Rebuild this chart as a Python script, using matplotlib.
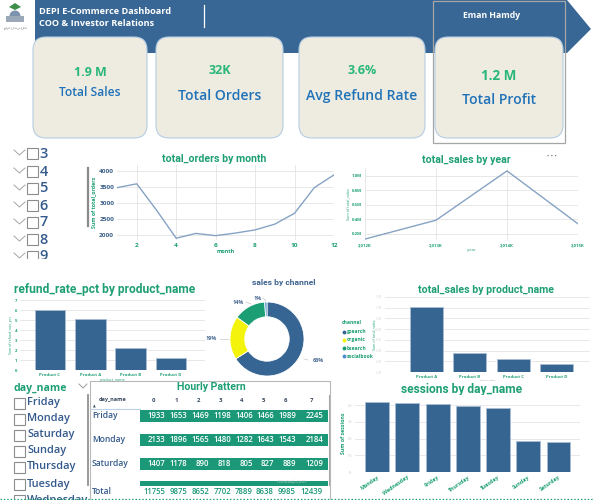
import matplotlib
matplotlib.use("Agg")
import matplotlib.pyplot as plt
from matplotlib.patches import FancyBboxPatch, Rectangle, Polygon, Circle
import numpy as np

# ---------------- data ----------------
kpi_values = ["1.9 M", "32K", "3.6%", "1.2 M"]
kpi_labels = ["Total Sales", "Total Orders", "Avg Refund Rate", "Total Profit"]

months = [1, 2, 3, 4, 5, 6, 7, 8, 9, 10, 11, 12]
orders_by_month = [3480, 3600, 2780, 1900, 2050, 1980, 2060, 2160, 2340, 2680, 3480, 3880]

years = [2012, 2013, 2014, 2015]
year_labels = ["2,012K", "2,013K", "2,014K", "2,015K"]
sales_by_year = [0.13e6, 0.39e6, 1.07e6, 0.34e6]

refund_products = ["Product C", "Product A", "Product B", "Product D"]
refund_rate = [6.0, 5.1, 2.2, 1.2]

channels = ["gsearch", "organic", "bsearch", "socialbook"]
channel_share = [66, 19, 14, 1]

sales_products = ["Product A", "Product B", "Product C", "Product D"]
sales_by_product = [1.21e6, 0.36e6, 0.245e6, 0.15e6]

session_days = ["Monday", "Wednesday", "Friday", "Thursday", "Tuesday", "Sunday", "Saturday"]
sessions = [41900, 41300, 40700, 39500, 38300, 18600, 18000]

slicer_months = ["3", "4", "5", "6", "7", "8", "9"]
slicer_days = ["Friday", "Monday", "Saturday", "Sunday", "Thursday", "Tuesday", "Wednesday"]

hours = [0, 1, 2, 3, 4, 5, 6, 7]
matrix_days = ["Friday", "Monday", "Saturday"]
hourly = [
    [1933, 1653, 1469, 1198, 1406, 1466, 1989, 2245],
    [2133, 1896, 1565, 1480, 1282, 1643, 1543, 2184],
    [1407, 1178, 890, 818, 805, 827, 889, 1209],
]
hourly_totals = [11755, 9875, 8652, 7702, 7889, 8638, 9985, 12439]

# ---------------- style ----------------
W, H = 593, 500
BANNER = "#386795"
CARD = "#eeebe1"
CARD_EDGE = "#b5cde3"
KPI_GREEN = "#27b877"
KPI_BLUE = "#1f72b8"
TGREEN = "#1e9f74"
BAR = "#376592"
LINE = "#86a3c4"
SLICER = "#34598c"
MGREEN = "#1b9877"
GRID = "#e4e4e4"

plt.rcParams['font.family'] = ['Open Sans', 'DejaVu Sans']

def pt(px):
    return px / (100 / 72)

fig = plt.figure(figsize=(W / 100, H / 100), dpi=100)
fig.patch.set_facecolor("white")

bg = fig.add_axes([0, 0, 1, 1])
bg.set_xlim(0, W)
bg.set_ylim(H, 0)
bg.axis("off")

def rect(x0, y0, x1, y1):
    return [x0 / W, 1 - y1 / H, (x1 - x0) / W, (y1 - y0) / H]

# ---------- header banner ----------
bg.add_patch(Polygon([(35, 0), (567, 0), (591, 29), (567, 53), (35, 53)],
                     closed=True, facecolor=BANNER, edgecolor="none", zorder=1))
bg.plot([204, 204], [5, 27], color="white", lw=0.9, zorder=2)
bg.text(39, 11, "DEPI E-Commerce Dashboard", color="white", fontsize=pt(9.2),
        fontweight="bold", va="center", ha="left", zorder=3)
bg.text(39, 24, "COO & Investor Relations", color="white", fontsize=pt(9.2),
        fontweight="bold", va="center", ha="left", zorder=3)
bg.text(492, 15, "Eman Hamdy", color="white", fontsize=pt(8.6),
        fontweight="bold", va="center", ha="center", zorder=3)

# logo (simplified)
bg.add_patch(Polygon([(9, 7), (15, 3), (21, 7), (15, 10)], facecolor="#3f8f4a", edgecolor="none", zorder=2))
bg.add_patch(Circle((15, 16), 5.5, facecolor="#7b93ad", edgecolor="none", zorder=2))
bg.add_patch(Rectangle((6, 16), 18, 6, facecolor="#9aa8b8", edgecolor="none", zorder=2))
bg.text(15, 27, "وزارة الاتصالات", fontsize=2.2, color="#555555", ha="center", va="center", zorder=3)

# grey box around last card
bg.add_patch(Rectangle((433, 0.5), 132, 142.5, facecolor="none", edgecolor="#a6a6a6", lw=0.9, zorder=4))

cards = [(33, 147), (156, 283), (299, 425), (435, 563)]
val_y = [72, 71, 71, 76]
lab_y = [93, 96, 96, 100]
lab_fs = [10.5, 12.5, 12.5, 12.5]
for i, (x0, x1) in enumerate(cards):
    bg.add_patch(FancyBboxPatch((x0, 37), x1 - x0, 101,
                                boxstyle="round,pad=0,rounding_size=13",
                                facecolor=CARD, edgecolor=CARD_EDGE, lw=0.8, zorder=3))
    cx = (x0 + x1) / 2
    bg.text(cx, val_y[i], kpi_values[i], color=KPI_GREEN, fontsize=pt(12.5 if i < 3 else 13.5),
            fontweight="bold", ha="center", va="center", zorder=4)
    bg.text(cx, lab_y[i], kpi_labels[i], color=KPI_BLUE, fontsize=pt(lab_fs[i] + 1.5),
            fontweight="semibold", ha="center", va="center", zorder=4)

# ---------- month slicer ----------
slicer_y = [153, 171, 188, 205, 222, 239, 256]
for lab, y in zip(slicer_months, slicer_y):
    bg.plot([14, 19.5, 25], [y - 3, y + 2, y - 3], color="#a5a5a5", lw=0.7, zorder=2)
    bg.add_patch(Rectangle((27, y - 5.5), 11, 11, facecolor="white", edgecolor="#8c8c8c", lw=0.8, zorder=2))
    bg.text(39.5, y + 0.5, lab, color=SLICER, fontsize=pt(14.5), fontweight="semibold",
            ha="left", va="center", zorder=2)
bg.add_patch(Rectangle((0, 259), 70, 20, facecolor="white", edgecolor="none", zorder=5))
bg.plot([88, 88], [168, 226], color="#8a8a8a", lw=1.6, zorder=2)

# ---------- total_orders by month ----------
ax1 = fig.add_axes(rect(117, 165, 334, 240))
ax1.plot(months, orders_by_month, color=LINE, lw=1.0)
ax1.set_xlim(1, 12)
ax1.set_ylim(1844, 4188)
ax1.set_xticks([2, 4, 6, 8, 10, 12])
ax1.set_yticks([2000, 2500, 3000, 3500, 4000])
ax1.grid(True, color=GRID, lw=0.6)
for s in ax1.spines.values():
    s.set_visible(False)
ax1.tick_params(length=0, pad=2)
for t in ax1.get_xticklabels():
    t.set_color(TGREEN); t.set_fontsize(pt(6.5)); t.set_fontweight("bold")
for t in ax1.get_yticklabels():
    t.set_color("#3b5f8a"); t.set_fontsize(pt(6.5)); t.set_fontweight("bold")
ax1.set_xlabel("month", color=TGREEN, fontsize=pt(5.5), fontweight="bold", labelpad=1)
ax1.set_ylabel("Sum of total_orders", color=TGREEN, fontsize=pt(5.3), fontweight="bold", labelpad=2)
bg.text(214, 159, "total_orders by month", color=TGREEN, fontsize=pt(10.5),
        fontweight="bold", ha="center", va="center", family=["Roboto", "DejaVu Sans"])

# ---------- total_sales by year ----------
ax2 = fig.add_axes(rect(365, 168, 578, 240))
ax2.plot(years, sales_by_year, color=LINE, lw=1.0)
ax2.set_xlim(2012, 2015)
ax2.set_ylim(0.117e6, 1.11e6)
ax2.set_xticks(years)
ax2.set_xticklabels(year_labels)
yt = [0.2e6, 0.4e6, 0.6e6, 0.8e6, 1.0e6]
ax2.set_yticks(yt)
ax2.set_yticklabels([f"{v/1e6:.1f}M" for v in yt])
ax2.grid(True, color=GRID, lw=0.6)
for s in ax2.spines.values():
    s.set_visible(False)
ax2.tick_params(length=0, pad=2)
for t in ax2.get_xticklabels() + ax2.get_yticklabels():
    t.set_color(TGREEN); t.set_fontsize(pt(4.2)); t.set_fontweight("bold")
ax2.set_xlabel("year", color=TGREEN, fontsize=pt(4.2), labelpad=1)
ax2.set_ylabel("Sum of total_sales", color=TGREEN, fontsize=pt(3.8), labelpad=1)
bg.text(466, 160, "total_sales by year", color=TGREEN, fontsize=pt(10.5),
        fontweight="bold", ha="center", va="center", family=["Roboto", "DejaVu Sans"])
bg.text(552, 156, "• • •", color="#666666", fontsize=pt(6), ha="center", va="center")

# ---------- refund_rate_pct by product_name ----------
ax3 = fig.add_axes(rect(20, 300, 205, 370))
x3 = np.arange(len(refund_products))
ax3.bar(x3, refund_rate, width=0.76, color=BAR, edgecolor="#a9bdd3", lw=0.6, zorder=2)
ax3.set_xlim(-0.74, 3.84)
ax3.set_ylim(0, 7)
ax3.set_yticks(range(0, 8))
ax3.set_xticks(x3)
ax3.set_xticklabels(refund_products)
ax3.grid(True, axis="y", color=GRID, lw=0.6, zorder=0)
for s in ax3.spines.values():
    s.set_visible(False)
ax3.tick_params(length=0, pad=2)
for t in ax3.get_xticklabels() + ax3.get_yticklabels():
    t.set_color(TGREEN); t.set_fontsize(pt(4.2)); t.set_fontweight("bold")
ax3.set_xlabel("product_name", color=TGREEN, fontsize=pt(3.8), labelpad=1)
ax3.set_ylabel("Sum of refund_rate_pct", color=TGREEN, fontsize=pt(3.5), labelpad=1)
bg.text(105, 290, "refund_rate_pct by product_name", color=TGREEN, fontsize=pt(12),
        fontweight="bold", ha="center", va="center", family=["Roboto", "DejaVu Sans"])

# ---------- sales by channel donut ----------
pie_colors = ["#366593", "#f3f30c", "#1c9e74", "#4a90cf"]
ax4 = fig.add_axes(rect(230, 302, 304, 376))
wedges, _ = ax4.pie(channel_share, colors=pie_colors, startangle=90, counterclock=False,
                    radius=1.0, wedgeprops=dict(width=0.4, edgecolor="white", lw=0.6))
ax4.set_xlim(-1, 1)
ax4.set_ylim(-1, 1)
ax4.set_aspect("equal")
bg.text(284, 283, "sales by channel", color="#3d6390", fontsize=pt(8.5),
        fontweight="bold", ha="center", va="center", family=["Roboto", "DejaVu Sans"])
lab_pos = [(318, 360), (211, 339), (238, 302), (258, 298)]
line_seg = [((304, 359), (308, 360)), ((220, 339), (229, 339)), ((246, 302), (251, 304)), ((263, 298), (266, 301))]
for v, (lx, ly), seg in zip(channel_share, lab_pos, line_seg):
    bg.text(lx, ly, f"{v}%", color="#4a6a92", fontsize=pt(5.5), fontweight="bold",
            ha="center", va="center")
    bg.plot([seg[0][0], seg[1][0]], [seg[0][1], seg[1][1]], color="#c8c8c8", lw=0.5)

# channel legend
bg.text(342, 323, "channel", color=TGREEN, fontsize=pt(5), fontweight="bold", ha="left", va="center")
for i, (ch, c) in enumerate(zip(channels, pie_colors)):
    y = 332 + 8 * i
    bg.plot([344], [y], marker="o", ms=1.8, color=c, mec=c)
    bg.text(347, y, ch, color=TGREEN, fontsize=pt(5), fontweight="bold", ha="left", va="center")

# ---------- total_sales by product_name ----------
ax5 = fig.add_axes(rect(385, 297, 590, 372))
x5 = np.arange(len(sales_products))
ax5.bar(x5, sales_by_product, width=0.76, color=BAR, edgecolor="#a9bdd3", lw=0.6, zorder=2)
ax5.set_xlim(-0.96, 3.77)
ax5.set_ylim(0, 1.4e6)
yt5 = np.arange(0, 1.41e6, 0.2e6)
ax5.set_yticks(yt5)
ax5.set_yticklabels([f"{v/1e6:.1f}M" for v in yt5])
ax5.set_xticks(x5)
ax5.set_xticklabels(sales_products)
ax5.grid(True, axis="y", color=GRID, lw=0.6, zorder=0)
for s in ax5.spines.values():
    s.set_visible(False)
ax5.tick_params(length=0, pad=2)
for t in ax5.get_xticklabels():
    t.set_color(TGREEN); t.set_fontsize(pt(4.2)); t.set_fontweight("bold")
for t in ax5.get_yticklabels():
    t.set_color("#d8d8d8"); t.set_fontsize(pt(2.6))
ax5.set_xlabel("product_name", color="#9a9a9a", fontsize=pt(2.4), labelpad=0.5)
ax5.set_ylabel("Sum of total_sales", color=TGREEN, fontsize=pt(3.6), labelpad=0)
bg.text(486, 290, "total_sales by product_name", color=TGREEN, fontsize=pt(10.5),
        fontweight="bold", ha="center", va="center", family=["Roboto", "DejaVu Sans"])

# ---------- sessions by day_name ----------
ax6 = fig.add_axes(rect(355, 395, 580, 472))
x6 = np.arange(len(session_days))
ax6.bar(x6, sessions, width=0.79, color=BAR, edgecolor="#a9bdd3", lw=0.6, zorder=2)
ax6.set_xlim(-0.73, 6.71)
ax6.set_ylim(0, 46100)
yt6 = [0, 10000, 20000, 30000, 40000]
ax6.set_yticks(yt6)
ax6.set_yticklabels([f"{int(v/1000)}K" for v in yt6])
ax6.set_xticks(x6)
ax6.set_xticklabels(session_days, rotation=35, ha="right", rotation_mode="anchor")
ax6.grid(True, axis="y", color=GRID, lw=0.6, zorder=0)
for s in ax6.spines.values():
    s.set_visible(False)
ax6.tick_params(length=0, pad=2)
for t in ax6.get_xticklabels():
    t.set_color(TGREEN); t.set_fontsize(pt(5.2)); t.set_fontweight("bold")
for t in ax6.get_yticklabels():
    t.set_color("#cfcfcf"); t.set_fontsize(pt(2.6))
ax6.set_ylabel("Sum of sessions", color=TGREEN, fontsize=pt(5.2), fontweight="bold", labelpad=1)
bg.text(462, 389, "sessions by day_name", color=TGREEN, fontsize=pt(12),
        fontweight="bold", ha="center", va="center", family=["Roboto", "DejaVu Sans"])

# ---------- day_name slicer ----------
bg.text(13, 388, "day_name", color=TGREEN, fontsize=pt(10.5), fontweight="bold", ha="left", va="center")
bg.plot([79, 83, 87], [384, 388, 384], color="#9a9a9a", lw=0.7)
day_y = [403, 419, 435, 451, 467, 484, 500]
for lab, y in zip(slicer_days, day_y):
    bg.add_patch(Rectangle((14, y - 5.5), 11, 11, facecolor="white", edgecolor="#8c8c8c", lw=0.8, zorder=2))
    bg.text(27, y, lab, color=SLICER, fontsize=pt(11), fontweight="semibold", ha="left", va="center", zorder=2)
bg.plot([88, 88], [395, 485], color="#9a9a9a", lw=1.4, zorder=2)

# ---------- Hourly Pattern matrix ----------
bg.plot([90, 90, 330, 330], [499, 381, 381, 499], color="#b8b8b8", lw=0.8, zorder=2)
bg.text(211, 387, "Hourly Pattern", color=TGREEN, fontsize=pt(10.5), fontweight="bold",
        ha="center", va="center", family=["Roboto", "DejaVu Sans"])
col_right = [165, 187, 209, 231, 253, 274, 296, 323]
bg.text(99, 400, "day_name", color="#3a4a60", fontsize=pt(5.5), fontweight="bold", ha="left", va="center")
bg.text(94, 406, "▲", color="#3a4a60", fontsize=pt(3.5), ha="center", va="center")
for h, xr in zip(hours, col_right):
    bg.text(xr - 11, 400, str(h), color="#3a4a60", fontsize=pt(6), fontweight="bold", ha="center", va="center")
bg.plot([90, 140], [408.5, 408.5], color="#b9d3ea", lw=0.8)
row_y = [416, 440, 464]
for day, y, vals in zip(matrix_days, row_y, hourly):
    bg.add_patch(Rectangle((140, y - 6), 188, 12, facecolor=MGREEN, edgecolor="none", zorder=2))
    bg.text(92, y, day, color=SLICER, fontsize=pt(8.5), fontweight="semibold", ha="left", va="center", zorder=3)
    for v, xr in zip(vals, col_right):
        bg.text(xr, y, str(v), color="white", fontsize=pt(7.8), fontweight="semibold",
                ha="right", va="center", zorder=3)
bg.add_patch(Rectangle((140, 481), 188, 5, facecolor=MGREEN, edgecolor="none", zorder=2))
bg.text(92, 491, "Total", color=SLICER, fontsize=pt(8.5), fontweight="semibold", ha="left", va="center", zorder=3)
for v, xr in zip(hourly_totals, col_right):
    bg.text(xr, 491, str(v), color=MGREEN, fontsize=pt(7.8), fontweight="semibold",
            ha="right", va="center", zorder=3)
bg.text(292, 482, "mostaql.com", color="#d4d4d4", fontsize=pt(5), ha="center", va="center", zorder=4, alpha=0.8)
bg.plot([329, 329], [395, 485], color="#a8a8a8", lw=0.8, zorder=3)

# dotted bottom line
bg.plot([0, W], [499, 499], color=TGREEN, lw=0.9, ls=(0, (1.2, 1.5)), zorder=5)

fig.savefig("out.png", dpi=100)
